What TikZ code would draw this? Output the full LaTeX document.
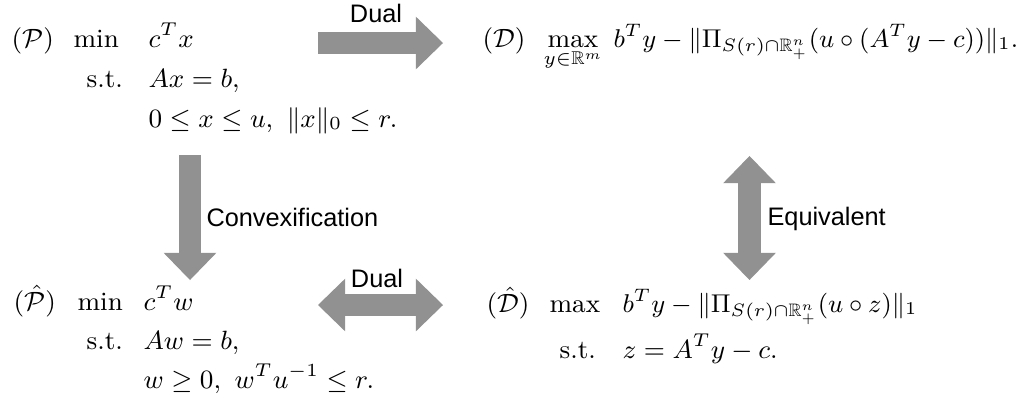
\RequirePackage{fix-cm}
\documentclass[tikz,border=0pt]{standalone}
\usepackage{amsmath,amssymb}
\usepackage{fontspec}
\newfontfamily\labelfont{Liberation Sans}
\definecolor{arrowGray}{RGB}{145,145,145}
\usetikzlibrary{arrows.meta}

\begin{document}
\begin{tikzpicture}[x=0.0125cm, y=-0.0125cm,
        every node/.style={inner sep=0pt, anchor=base west,
          font=\fontsize{9.4}{11.3}\selectfont},
        obj/.style={font=\fontsize{9.15}{11}\selectfont},
        lbl/.style={font=\labelfont\fontsize{9}{11}\selectfont, anchor=center},
        fat/.style={draw=arrowGray, line width=0.285cm,
          >={Triangle[length=0.34cm, width=0.66cm, line width=0pt]}}
      ]
        \useasboundingbox (0,0) rectangle (1024,406);
        % Primal problem
        \node (pLab) at (11,47) {$(\mathcal{P})$};
        \node (pMin) at (73,47) {$\min$};
        \node (pSt) at (86,87) {s.t.};
        \node (pObj) at (148,47) {$c^Tx$};
        \node (pCon1) at (148,87) {$Ax=b,$};
        \node (pCon2) at (148,127) {$0\le x\le u,\ \|x\|_0\le r.$};
        % Dual problem
        \node (dLab) at (482,47) {$(\mathcal{D})$};
        \node (dMax) at (543,47) {$\displaystyle\max_{y\in\mathbb{R}^m}$};
        \node[obj] (dObj) at (613,47)
          {$b^Ty-\|\Pi_{S(r)\cap\mathbb{R}^n_+}(u\circ(A^Ty-c))\|_1.$};
        % Convexified problem
        \node (hLab) at (13,310) {$(\hat{\mathcal{P}})$};
        \node (hMin) at (77,310) {$\min$};
        \node (hSt) at (86,349) {s.t.};
        \node (hObj) at (143,310) {$c^Tw$};
        \node (hCon1) at (143,349) {$Aw=b,$};
        \node (hCon2) at (143,388) {$w\ge 0,\ w^Tu^{-1}\le r.$};
        % Its dual
        \node (gLab) at (486,312) {$(\hat{\mathcal{D}})$};
        \node (gMax) at (549,312) {$\max$};
        \node (gSt) at (559,358) {s.t.};
        \node[obj] (gObj) at (622,312)
          {$b^Ty-\|\Pi_{S(r)\cap\mathbb{R}^n_+}(u\circ z)\|_1$};
        \node (gCon) at (622,358) {$z=A^Ty-c.$};
        % Big gray arrows with labels
        \coordinate (dualA) at (318,43);
        \coordinate (dualB) at (443,43);
        \draw[fat, ->] (dualA) -- (dualB);
        \node[lbl] (dualTop) at (376,13) {Dual};
        \coordinate (convA) at (190,155);
        \coordinate (convB) at (190,280);
        \draw[fat, ->] (convA) -- (convB);
        \node[lbl, anchor=west] (convLab) at (206,217) {Convexification};
        \coordinate (equivA) at (749.5,156);
        \coordinate (equivB) at (749.5,280);
        \draw[fat, <->] (equivA) -- (equivB);
        \node[lbl, anchor=west] (equivLab) at (767,219) {Equivalent};
        \coordinate (dualC) at (318,305);
        \coordinate (dualD) at (443,305);
        \draw[fat, <->] (dualC) -- (dualD);
        \node[lbl] (dualBot) at (377,278) {Dual};
      \end{tikzpicture}
\end{document}
